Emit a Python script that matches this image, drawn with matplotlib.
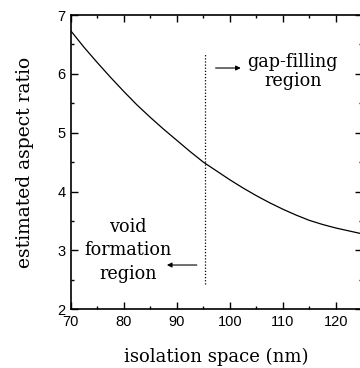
import matplotlib.pyplot as plt
from matplotlib.ticker import MultipleLocator

# isolation space (nm) vs. estimated aspect ratio
space = [70, 72.5, 75, 77.5, 80, 82.5, 85, 87.5, 90, 92.5, 95, 97.5, 100,
         102.5, 105, 107.5, 110, 112.5, 115, 117.5, 120, 122.5, 125]
aspect = [6.73, 6.45, 6.19, 5.94, 5.70, 5.47, 5.26, 5.06, 4.87, 4.68, 4.50,
          4.35, 4.20, 4.06, 3.93, 3.81, 3.70, 3.60, 3.51, 3.44, 3.38, 3.33, 3.28]

boundary_x = 95.3
boundary_y = [2.42, 6.35]

serif = 'DejaVu Serif'
sans = 'Liberation Sans'

fig = plt.figure(figsize=(3.6, 3.68), dpi=100)
ax = fig.add_axes([0.197, 0.160, 0.809, 0.799])

ax.plot(space, aspect, color='black', lw=0.9)
ax.plot([boundary_x, boundary_x], boundary_y, color='black', lw=0.9, ls=(0, (1, 1.5)))

ax.set_xlim(70, 125)
ax.set_ylim(2, 7)
ax.xaxis.set_major_locator(MultipleLocator(10))
ax.xaxis.set_minor_locator(MultipleLocator(5))
ax.yaxis.set_major_locator(MultipleLocator(1))
ax.yaxis.set_minor_locator(MultipleLocator(0.5))
ax.tick_params(which='both', direction='in', top=True, right=True, width=1.0)
ax.tick_params(which='major', length=5, labelsize=10.5, pad=4)
ax.tick_params(which='minor', length=2.5)
for lab in ax.get_xticklabels() + ax.get_yticklabels():
    lab.set_family(sans)
for s in ax.spines.values():
    s.set_linewidth(1.2)

ax.set_xlabel('isolation space (nm)', family=serif, fontsize=13, labelpad=14)
ax.set_ylabel('estimated aspect ratio', family=serif, fontsize=13.5, labelpad=17)

# region annotations
ax.text(111.9, 6.04, 'gap-filling\nregion', family=serif, fontsize=12.7,
        ha='center', va='center', linespacing=1.1)
ax.annotate('', xy=(102.6, 6.1), xytext=(96.8, 6.1),
            arrowprops=dict(arrowstyle='-|>', color='black', lw=0.8,
                            mutation_scale=7))
ax.text(80.8, 3.0, 'void\nformation\nregion', family=serif, fontsize=12.7,
        ha='center', va='center', linespacing=1.4)
ax.annotate('', xy=(87.6, 2.75), xytext=(94.3, 2.75),
            arrowprops=dict(arrowstyle='-|>', color='black', lw=0.8,
                            mutation_scale=7))

fig.savefig('out.png', dpi=100)
